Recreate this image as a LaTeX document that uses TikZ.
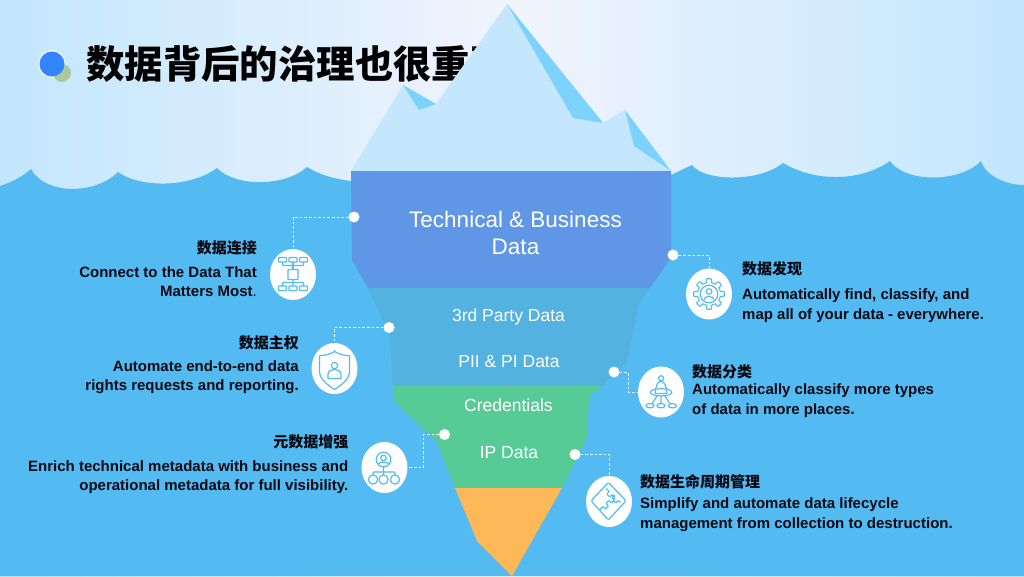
\documentclass[tikz,border=0pt]{standalone}
\usepackage{fontspec}
\setmainfont{Liberation Sans}
\newfontfamily\cjk{Noto Sans CJK SC}
\usetikzlibrary{shapes.geometric}
\definecolor{sea}{HTML}{53BBF2}
\definecolor{ice}{HTML}{C4E7FE}
\definecolor{facet}{HTML}{7DD2FC}
\definecolor{bandblue}{HTML}{5F96E6}
\definecolor{bandteal}{HTML}{53B2E0}
\definecolor{bandgreen}{HTML}{57CB96}
\definecolor{bandorange}{HTML}{FDB858}
\definecolor{ink}{HTML}{0A0A14}
\tikzset{
  icondisc/.style={ellipse, fill=white, minimum width=46, minimum height=51, inner sep=0},
  dotmark/.style={circle, fill=white, minimum size=11, inner sep=0},
  leader/.style={white!85!sea, dashed, dash pattern=on 2.6pt off 2pt, line width=0.8},
  headtext/.style={text=ink, font=\cjk\bfseries\fontsize{15}{18}\selectfont, inner sep=0},
  bodytext/.style={text=ink, font=\bfseries\fontsize{15}{#1}\selectfont, inner sep=0},
  bodytext/.default=19,
  bandtext/.style={text=white, font=\fontsize{17.5}{21}\selectfont, inner sep=0},
  iconline/.style={sea, line width=1.2, rounded corners=0.6}
}
\begin{document}
\begin{tikzpicture}[x=1pt, y=-1pt]
  \useasboundingbox (0,0) rectangle (1024,576);
  % the sky
  \shade [left color=white!60!sea!20!ice, right color=white!60!sea!20!ice, middle color={rgb,255:red,241;green,244;blue,253}] (0,0) rectangle (1024,576);
  % the title goes under the iceberg
  \fill [white!70!blue!20] (52,64) circle (14);
  \fill [green!50!lime!30!gray!60!white] (62,73) circle (9);
  \fill [blue!60!cyan!80!white] (52,64) circle (12.5);
  \node (titletext) [anchor=west, inner sep=0, text=black, font=\cjk\bfseries\fontsize{38.4}{44}\selectfont] at (86,64) {数据背后的治理也很重要};
  % the sea
  \fill [sea] (0,186) .. controls (12,182) and (22,177) .. (31,169)
    .. controls (45,195) and (95,195) .. (118,172)
    .. controls (140,188) and (190,188) .. (217,168)
    .. controls (235,187) and (285,187) .. (307,167)
    .. controls (320,175) and (335,179) .. (351,181)
    -- (671,175) -- (692,165)
    .. controls (705,182) and (760,182) .. (783,163)
    .. controls (815,182) and (860,182) .. (890,161)
    .. controls (905,183) and (960,183) .. (981,161)
    .. controls (985,175) and (1005,185) .. (1024,185)
    -- (1024,576) -- (0,576) -- cycle;
  % the iceberg above the water
  \fill [ice] (351,171) -- (403,85) -- (436,104) -- (507,4) -- (603,123) -- (625,110) -- (671,171) -- cycle;
  \fill [facet] (507,4) -- (573,118) -- (603,123) -- cycle;
  \fill [facet] (625,110) -- (634,146) -- (671,171) -- cycle;
  \fill [facet] (403,85) -- (419,110) -- (436,104) -- cycle;
  % the iceberg under the water
  \fill [bandblue] (351,171) -- (671,171) -- (671,258) -- (650,288) -- (368,288) -- (352,260) -- cycle;
  \fill [bandteal] (368,288) -- (650,288) -- (639,304) -- (627,363) -- (602,386) -- (393,386) -- (390,337) -- cycle;
  \fill [bandgreen] (393,386) -- (602,386) -- (589,397) -- (587,438) -- (562,488) -- (455,488) -- (437,442) -- (393,400) -- cycle;
  \fill [bandorange] (455,488) -- (562,488) -- (512,576) -- (477,541) -- cycle;
  \node (techtext) [bandtext, align=center, font=\fontsize{22.5}{27}\selectfont] at (515.5,232.5) {Technical \& Business\\Data};
  \node (thirdtext) [bandtext] at (508.5,317) {3rd Party Data};
  \node (piitext) [bandtext] at (509,362) {PII \& PI Data};
  \node (credtext) [bandtext] at (508.5,405.5) {Credentials};
  \node (iptext) [bandtext] at (509,453) {IP Data};
  % discs and dots
  \node (iconA) [icondisc] at (293,274.5) {};
  \node (iconB) [icondisc] at (334.5,368.5) {};
  \node (iconC) [icondisc] at (384.5,467.5) {};
  \node (iconD) [icondisc] at (709,294) {};
  \node (iconE) [icondisc] at (661,392) {};
  \node (iconF) [icondisc] at (609,501.5) {};
  \node (dotA) [dotmark] at (354,217) {};
  \node (dotB) [dotmark] at (389,327.5) {};
  \node (dotC) [dotmark] at (444.5,434.5) {};
  \node (dotD) [dotmark] at (673,255) {};
  \node (dotE) [dotmark] at (614,372) {};
  \node (dotF) [dotmark] at (575,454.5) {};
  \coordinate (elbowC) at (423.5,450);
  \coordinate (elbowE) at (628,382);
  % connections between dots and discs
  \draw [leader] (dotA) -| (iconA.north);
  \draw [leader] (dotB) -| (iconB.north);
  \draw [leader] (dotC) -| (elbowC) |- (iconC.east);
  \draw [leader] (dotD) -| (iconD.north);
  \draw [leader] (dotE) -| (elbowE) |- (iconE.west);
  \draw [leader] (dotF) -| (iconF.north);
  % left texts
  \node (headA) [headtext, anchor=east] at (257,248) {数据连接};
  \node (bodyA) [bodytext, anchor=north east, align=right] at (257,266.5) {Connect to the Data That\\Matters Most{\mdseries.}};
  \node (headB) [headtext, anchor=east] at (299,343) {数据主权};
  \node (bodyB) [bodytext, anchor=north east, align=right] at (299,360.5) {Automate end-to-end data\\rights requests and reporting.};
  \node (headC) [headtext, anchor=east] at (348.5,442) {元数据增强};
  \node (bodyC) [bodytext, anchor=north east, align=right] at (348.5,460.5) {Enrich technical metadata with business and\\operational metadata for full visibility.};
  % right texts
  \node (headD) [headtext, anchor=west] at (742,269) {数据发现};
  \node (bodyD) [bodytext=20, anchor=north west, align=left] at (742,288) {Automatically find, classify, and\\map all of your data - everywhere.};
  \node (headE) [headtext, anchor=west] at (692,371.5) {数据分类};
  \node (bodyE) [bodytext=20, anchor=north west, align=left] at (692,383.5) {Automatically classify more types\\of data in more places.};
  \node (headF) [headtext, anchor=west] at (640,481.5) {数据生命周期管理};
  \node (bodyF) [bodytext=20, anchor=north west, align=left] at (640,497.5) {Simplify and automate data lifecycle\\management from collection to destruction.};
  % network icon
  \begin{scope}[shift={(iconA.center)}, iconline]
    \foreach \x in {-10.5,0,10.5}
    {
      \draw (\x-4,-17) rectangle (\x+4,-12.5);
      \draw (\x-4,11.5) rectangle (\x+4,16);
    }
    \draw (-5,-5) rectangle (5,5);
    \draw (-10.5,-12.5) -- (-10.5,-9) -- (10.5,-9) -- (10.5,-12.5);
    \draw (0,-12.5) -- (0,-5);
    \draw (0,5) -- (0,8) (-10.5,11.5) -- (-10.5,8) -- (10.5,8) -- (10.5,11.5) (0,8) -- (0,11.5);
  \end{scope}
  % shield icon
  \begin{scope}[shift={(iconB.center)}, iconline]
    \draw (0,-17) .. controls (-5,-14) and (-10,-13) .. (-15,-13) -- (-15,2) .. controls (-15,11) and (-6,17) .. (0,21) .. controls (6,17) and (15,11) .. (15,2) -- (15,-13) .. controls (10,-13) and (5,-14) .. (0,-17) -- cycle;
    \draw (0,-3) circle (3.2);
    \draw (-6.5,10) -- (-6.5,6) .. controls (-6.5,3) and (-3,1) .. (0,1) .. controls (3,1) and (6.5,3) .. (6.5,6) -- (6.5,10) -- cycle;
  \end{scope}
  % people tree icon
  \begin{scope}[shift={(iconC.center)}, iconline]
    \draw (-1,-8) circle (7.3);
    \draw (-1,-9.5) circle (2.8);
    \draw (-6,-3.5) .. controls (-5,-6) and (3,-6) .. (4,-3.5);
    \draw (-1,-0.7) -- (-1,4.5) (-11.5,7.5) -- (-11.5,4.5) -- (10.5,4.5) -- (10.5,7.5) (-1,4.5) -- (-1,7.5);
    \foreach \x in {-11.5,-1,10.5}
      \draw (\x,12) circle (4.6);
  \end{scope}
  % gear icon
  \begin{scope}[shift={(iconD.center)}, iconline]
    \foreach \a in {0,45,...,315}
      \draw (\a-22.5:11.5) -- (\a-12:11.5) -- (\a-9:15.5) -- (\a+9:15.5) -- (\a+12:11.5) -- (\a+22.5:11.5);
    \draw (0,0) circle (8.8);
    \draw (0,-2.5) circle (2.8);
    \draw (-5,5.5) .. controls (-4.5,1.5) and (4.5,1.5) .. (5,5.5);
  \end{scope}
  % ring icon
  \begin{scope}[shift={(iconE.center)}, iconline]
    \draw (0,-13.7) circle (2.6);
    \draw (-5.8,1.5) .. controls (-5.5,-6) and (-3,-10.5) .. (0,-10.5) .. controls (3,-10.5) and (5.5,-6) .. (5.8,1.5) -- cycle;
    \draw (0,0.3) ellipse (10.8 and 3.6);
    \draw (0,4) -- (0,11.5) (-4,4) -- (-9,11.8) (4,4) -- (9,11.8);
    \foreach \x in {-11,0,11.3}
      \draw (\x,13.7) ellipse (4 and 2.2);
  \end{scope}
  % puzzle icon
  \begin{scope}[shift={(iconF.center)}, iconline, rounded corners=1.5]
    \draw (-0.7,-19) -- (17,-0.7) -- (-0.7,18.5) -- (-18,-0.7) -- cycle;
    \draw [rounded corners=0.8] (-0.7,-19) ++ (-2,6) -- ++(3,3) -- ++(-2.5,2.5) -- ++(3,3) -- ++(2.5,-2.5) -- ++(3,3) -- ++(-2.5,2.5) -- ++(3,3) -- ++(2.5,-2.5) -- ++(2,2);
    \draw [rounded corners=0.8] (-9,8) -- ++(3,-3) -- ++(2.5,2.5) -- ++(3,-3) -- ++(-2.5,-2.5) -- ++(3,-3) -- ++(2.5,2.5) -- ++(3,-3) -- ++(-2.5,-2.5) -- ++(2.5,-2.5);
  \end{scope}
\end{tikzpicture}
\end{document}
